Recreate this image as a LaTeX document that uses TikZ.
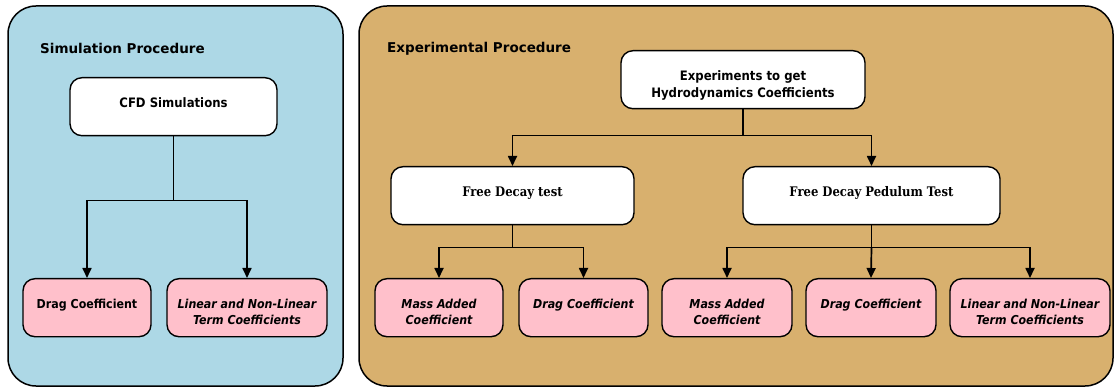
\documentclass[tikz,border=0pt]{standalone}
\usepackage{fontspec}
\setmainfont{DejaVu Sans}
\newfontfamily\boxsans[FakeStretch=0.9]{DejaVu Sans}
\newfontfamily\serifb[FakeStretch=0.88]{DejaVu Serif}
\usetikzlibrary{arrows.meta}
\definecolor{panelblue}{RGB}{173,216,230}
\definecolor{paneltan}{RGB}{216,176,110}
\definecolor{boxpink}{RGB}{255,192,203}
\newcommand{\bxt}[2]{\parbox[t]{#1}{\centering #2}}
\begin{document}
\begin{tikzpicture}[x=1pt,y=1pt,
  panel/.style={draw=black, line width=1.5pt, rounded corners=28pt},
  boxbase/.style={draw=black, line width=1.4pt, rounded corners=12pt, inner sep=0pt, anchor=north, text height=29.5pt, text depth=28.5pt},
  topbox/.style={boxbase, fill=white, font=\boxsans\fontsize{13}{17}\selectfont\bfseries},
  serifbox/.style={boxbase, fill=white, font=\serifb\fontsize{13.2}{17}\selectfont\bfseries},
  resbox/.style={boxbase, fill=boxpink, font=\boxsans\fontsize{12.3}{16}\selectfont\bfseries},
  resital/.style={boxbase, fill=boxpink, font=\boxsans\fontsize{12.3}{16}\selectfont\bfseries\itshape},
  paneltitle/.style={font=\fontsize{13.5}{16}\selectfont\bfseries, anchor=base west, inner sep=0pt},
  conn/.style={line width=1.7pt},
  arr/.style={line width=1.7pt, -{Triangle[width=9pt,length=10pt]}}]
\useasboundingbox (0,0) rectangle (1116,-387);
% panels
\draw[panel, fill=panelblue] (8,-6) rectangle (343,-386);
\draw[panel, fill=paneltan] (359,-6) rectangle (1113,-386);
\node[paneltitle] (t1) at (40,-54) {Simulation Procedure};
\node[paneltitle] (t2) at (387,-53) {Experimental Procedure};
% simulation side
\node[topbox] (cfd) at (173.5,-77) {\bxt{207pt}{CFD Simulations}};
\node[resbox] (d1) at (87,-278) {\bxt{128pt}{Drag Coefficient}};
\node[resital] (l1) at (247,-278) {\bxt{160pt}{Linear and Non-Linear\\Term Coefficients}};
% experimental side
\node[topbox] (exp) at (743,-50) {\bxt{244pt}{Experiments to get\\Hydrodynamics Coefficients}};
\node[serifbox] (fdt) at (512.5,-166) {\bxt{243pt}{Free Decay test}};
\node[serifbox] (fdp) at (871.5,-166) {\bxt{257pt}{Free Decay Pedulum Test}};
\node[resital] (ma1) at (439,-278) {\bxt{128pt}{Mass Added\\Coefficient}};
\node[resital] (dc2) at (583.5,-278) {\bxt{129pt}{Drag Coefficient}};
\node[resital] (ma2) at (727,-278) {\bxt{130pt}{Mass Added\\Coefficient}};
\node[resital] (dc3) at (871,-278) {\bxt{130pt}{Drag Coefficient}};
\node[resital] (l2) at (1030,-278) {\bxt{160pt}{Linear and Non-Linear\\Term Coefficients}};
% junctions
\path (cfd.south) ++(0,-64) coordinate (j1);
\path (exp.south) ++(0,-26) coordinate (j2);
\path (fdt.south) ++(0,-22) coordinate (j3);
\path (fdp.south) ++(0,-22) coordinate (j4);
% connectors
\draw[conn] (cfd.south) -- (j1);
\draw[arr] (j1) -| (d1.north);
\draw[arr] (j1) -| (l1.north);
\draw[conn] (exp.south) -- (j2);
\draw[arr] (j2) -| (fdt.north);
\draw[arr] (j2) -| (fdp.north);
\draw[conn] (fdt.south) -- (j3);
\draw[arr] (j3) -| (ma1.north);
\draw[arr] (j3) -| (dc2.north);
\draw[conn] (fdp.south) -- (j4);
\draw[arr] (j4) -| (ma2.north);
\draw[arr] (j4) -- (dc3.north);
\draw[arr] (j4) -| (l2.north);
\end{tikzpicture}
\end{document}
